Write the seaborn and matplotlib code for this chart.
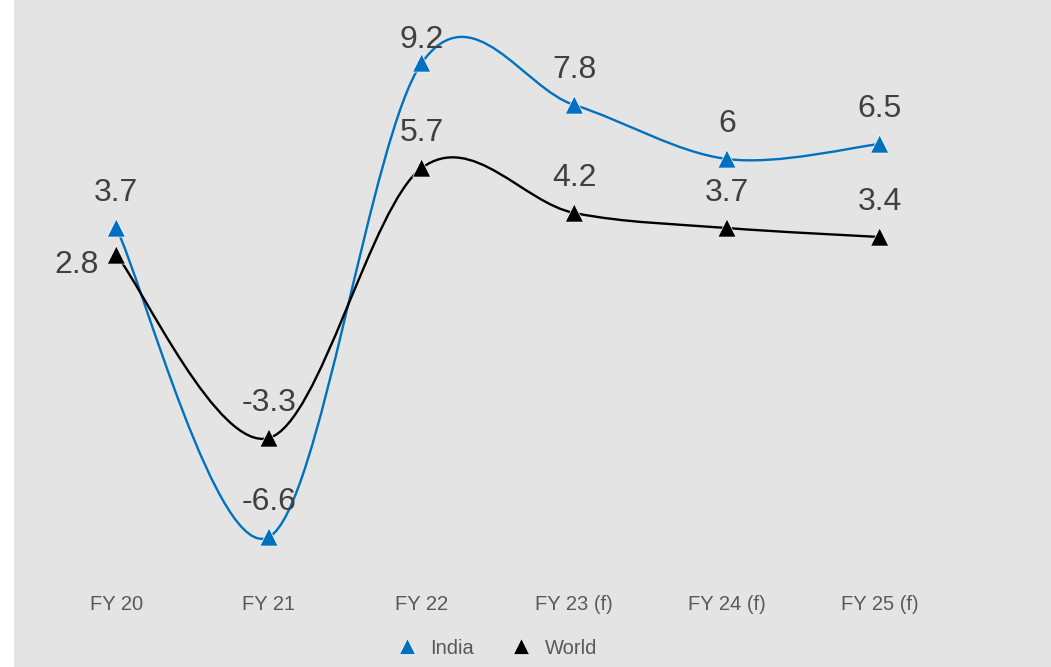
import numpy as np
import pandas as pd
import seaborn as sns
import matplotlib.pyplot as plt
from matplotlib.path import Path
from matplotlib.patches import PathPatch, Rectangle

# Real GDP growth (%), India vs World
years = ["FY 20", "FY 21", "FY 22", "FY 23 (f)", "FY 24 (f)", "FY 25 (f)"]
india = [3.7, -6.6, 9.2, 7.8, 6, 6.5]
world = [2.8, -3.3, 5.7, 4.2, 3.7, 3.4]
series_names = ["India", "World"]
series_colors = ["#0070c0", "#000000"]

sns.set_theme(style="white")
plt.rcParams["font.family"] = ["Liberation Sans", "DejaVu Sans"]

fig = plt.figure(figsize=(10.51, 6.67), dpi=100)
fig.patch.set_facecolor("white")
bg = "#e4e4e4"
fig.add_artist(Rectangle((14 / 1051, 0), 1, 1, transform=fig.transFigure,
                         facecolor=bg, edgecolor="none", zorder=-10))

ax = fig.add_axes([40 / 1051, 1 - 585 / 667, 916 / 1051, 575 / 667])
ax.set_facecolor(bg)
ax.patch.set_alpha(0)

df = pd.DataFrame({
    "year": years * 2,
    "pos": list(range(len(years))) * 2,
    "growth": india + world,
    "series": [series_names[0]] * len(years) + [series_names[1]] * len(years),
})


def smooth_path(xs, ys):
    """Catmull-Rom style cubic Bezier through every point."""
    pts = np.column_stack([xs, ys]).astype(float)
    n = len(pts)
    verts = [pts[0]]
    codes = [Path.MOVETO]
    for i in range(n - 1):
        p0 = pts[i - 1] if i > 0 else pts[i]
        p1 = pts[i]
        p2 = pts[i + 1]
        p3 = pts[i + 2] if i + 2 < n else pts[i + 1]
        c1 = p1 + (p2 - p0) / 6.0
        c2 = p2 - (p3 - p1) / 6.0
        verts += [c1, c2, p2]
        codes += [Path.CURVE4] * 3
    return Path(verts, codes)


for name, color in zip(series_names, series_colors):
    sub = df[df["series"] == name]
    patch = PathPatch(smooth_path(sub["pos"], sub["growth"]), facecolor="none",
                      edgecolor=color, linewidth=1.7, zorder=2, capstyle="round")
    ax.add_patch(patch)

sns.scatterplot(data=df, x="pos", y="growth", hue="series",
                palette=dict(zip(series_names, series_colors)),
                marker="^", s=170, linewidth=0.5, zorder=3, ax=ax, legend=True)

# value labels
label_style = dict(fontsize=23, color="#404040", ha="center", va="center",
                   textcoords="offset points", zorder=4)
special = {("India", 2): dict(xytext=(0, 16.5)),
           ("World", 0): dict(xytext=(-13, -7), ha="right")}
for name in series_names:
    sub = df[df["series"] == name].reset_index(drop=True)
    for i, row in sub.iterrows():
        kw = dict(label_style)
        kw["xytext"] = (0, 25)
        kw.update(special.get((name, i), {}))
        ax.annotate(f"{row['growth']:g}", (row["pos"], row["growth"]), **kw)

ax.set_xlim(-0.5, len(years) - 0.5)
ax.set_ylim(-8.2, 10.967)
ax.set_xticks(range(len(years)))
ax.set_xticklabels(years)
ax.set_yticks([])
ax.tick_params(axis="x", length=0, pad=7.5, labelsize=14.5, labelcolor="#595959")
ax.set_xlabel("")
ax.set_ylabel("")
for s in ax.spines.values():
    s.set_visible(False)

sns.move_legend(ax, "center", bbox_to_anchor=(492 / 1051, 1 - 648 / 667),
                bbox_transform=fig.transFigure, ncol=2, frameon=False, title=None,
                fontsize=14.5, handletextpad=0.15, columnspacing=1.35, markerscale=0.85)
for t in ax.get_legend().get_texts():
    t.set_color("#595959")

fig.savefig("out.png", dpi=100, facecolor=fig.get_facecolor())
